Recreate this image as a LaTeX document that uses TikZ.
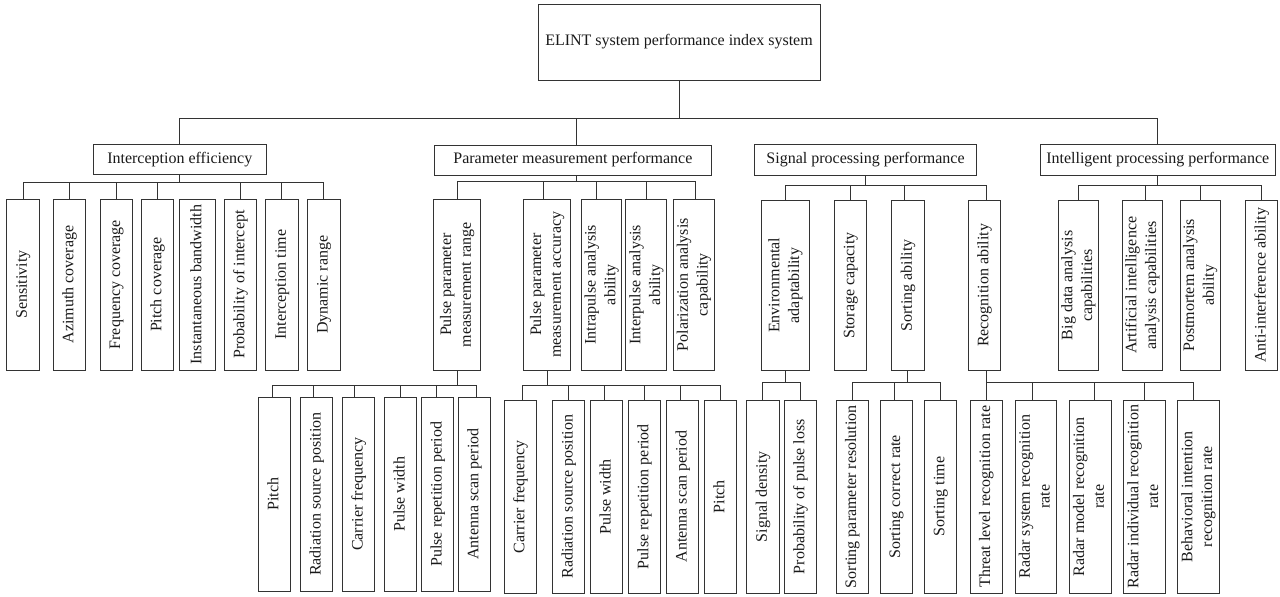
\documentclass[tikz,border=0pt]{standalone}
\usepackage{fontspec}
\usepackage{graphicx}
\setmainfont{Liberation Serif}
\newcommand\rtx[1]{\rotatebox{90}{\begin{tabular}{@{}c@{}}#1\end{tabular}}}
\newcommand\mkbox[6]{\node[box, minimum width={(#4-#2)*1pt}, minimum height={(#5-#3)*1pt}] (#1) at ({(#2+#4)/2},{(#3+#5)/2}) {#6};}
\tikzset{
  box/.style={draw=black!80, line width=0.95pt, rectangle, inner sep=0pt, outer sep=0pt,
    text=black!90, font=\fontsize{16}{19.8}\selectfont, align=center},
  ln/.style={line width=0.95pt, draw=black!80}
}
\begin{document}
\begin{tikzpicture}[x=1pt,y=-1pt]
\useasboundingbox (0,0) rectangle (1280,597);
% root
\mkbox{root}{538}{4}{820}{80}{ELINT system performance index system}
% level 1
\mkbox{ie}{93.5}{144}{266}{174.5}{Interception efficiency}
\mkbox{pm}{434.3}{145}{711.4}{175}{Parameter measurement performance}
\mkbox{sp}{754.3}{144.5}{976.7}{175}{Signal processing performance}
\mkbox{ip}{1040}{144.5}{1275.5}{175}{Intelligent processing performance}
% level 2: interception
\mkbox{i1}{6.7}{199.3}{39.3}{370}{\rtx{Sensitivity}}
\mkbox{i2}{53.3}{199.3}{85.7}{370}{\rtx{Azimuth coverage}}
\mkbox{i3}{100}{199.3}{132.3}{370}{\rtx{Frequency coverage}}
\mkbox{i4}{141.3}{199.3}{173.7}{370}{\rtx{Pitch coverage}}
\mkbox{i5}{179.7}{199.3}{215}{370}{\rtx{Instantaneous bandwidth}}
\mkbox{i6}{224.3}{199.3}{256.7}{370}{\rtx{Probability of intercept}}
\mkbox{i7}{265.7}{199.3}{298}{370}{\rtx{Interception time}}
\mkbox{i8}{307.3}{199.3}{340}{370}{\rtx{Dynamic range}}
% level 2: parameter
\mkbox{p1}{433.3}{199.3}{480.7}{370}{\rtx{Pulse parameter\\measurement range}}
\mkbox{p2}{523.3}{199.3}{570.7}{370}{\rtx{Pulse parameter\\measurement accuracy}}
\mkbox{p3}{582.7}{199.3}{620.3}{370}{\rtx{Intrapulse analysis\\ability}}
\mkbox{p4}{625.7}{199.3}{666.7}{370}{\rtx{Interpulse analysis\\ability}}
\mkbox{p5}{673.3}{199.3}{714.3}{370}{\rtx{Polarization analysis\\capability}}
% level 2: signal
\mkbox{s1}{761.7}{200.7}{809}{370}{\rtx{Environmental\\adaptability}}
\mkbox{s2}{834.3}{200.7}{866.7}{370}{\rtx{Storage capacity}}
\mkbox{s3}{891.7}{200.7}{924}{370}{\rtx{Sorting ability}}
\mkbox{s4}{968.3}{200.7}{1000.7}{370}{\rtx{Recognition ability}}
% level 2: intelligent
\mkbox{t1}{1058.3}{200.7}{1098.3}{370}{\rtx{Big data analysis\\capabilities}}
\mkbox{t2}{1122.3}{200.7}{1162.3}{370}{\rtx{Artificial intelligence\\analysis capabilities}}
\mkbox{t3}{1180}{200.7}{1220}{370}{\rtx{Postmortem analysis\\ability}}
\mkbox{t4}{1245.7}{200.7}{1277.7}{370}{\rtx{Anti-interference ability}}
% level 3: range
\mkbox{r1}{258.3}{397.3}{290.7}{591}{\rtx{Pitch}}
\mkbox{r2}{300.7}{397.3}{332.7}{591}{\rtx{Radiation source position}}
\mkbox{r3}{342.7}{397.3}{374.7}{591}{\rtx{Carrier frequency}}
\mkbox{r4}{384.7}{397.3}{416.7}{591}{\rtx{Pulse width}}
\mkbox{r5}{421.7}{397.3}{453.7}{591}{\rtx{Pulse repetition period}}
\mkbox{r6}{458.3}{397.3}{490.7}{591}{\rtx{Antenna scan period}}
% level 3: accuracy
\mkbox{a1}{504.3}{400}{536.3}{593.3}{\rtx{Carrier frequency}}
\mkbox{a2}{552.7}{400}{584.7}{593.3}{\rtx{Radiation source position}}
\mkbox{a3}{590.7}{400}{622.7}{593.3}{\rtx{Pulse width}}
\mkbox{a4}{628.3}{400}{660.3}{593.3}{\rtx{Pulse repetition period}}
\mkbox{a5}{666.7}{400}{698.7}{593.3}{\rtx{Antenna scan period}}
\mkbox{a6}{704.3}{400}{736.3}{593.3}{\rtx{Pitch}}
% level 3: environmental
\mkbox{e1}{746.7}{400}{779}{593.3}{\rtx{Signal density}}
\mkbox{e2}{784.3}{400}{816.7}{593.3}{\rtx{Probability of pulse loss}}
% level 3: sorting
\mkbox{o1}{836}{400}{868.3}{593.3}{\rtx{Sorting parameter resolution}}
\mkbox{o2}{880}{400}{912.3}{593.3}{\rtx{Sorting correct rate}}
\mkbox{o3}{924.3}{400}{956.7}{593.3}{\rtx{Sorting time}}
% level 3: recognition
\mkbox{g1}{970}{400}{1002.3}{593.3}{\rtx{Threat level recognition rate}}
\mkbox{g2}{1015}{400}{1056.7}{593.3}{\rtx{Radar system recognition\\rate}}
\mkbox{g3}{1069}{400}{1111}{593.3}{\rtx{Radar model recognition\\rate}}
\mkbox{g4}{1123.3}{400}{1165.3}{593.3}{\rtx{Radar individual recognition\\rate}}
\mkbox{g5}{1177.3}{400}{1219.3}{593.3}{\rtx{Behavioral intention\\recognition rate}}
% connectors: root
\draw[ln] (root.south) -- ++(0,38) coordinate (b0) -| (ie.north);
\draw[ln] (b0) -| ([xshift=4pt]pm.north);
\draw[ln] (b0) -| (ip.north);
% interception
\draw[ln] (ie.south) -- ++(0,8.2) coordinate (bi);
\foreach \c in {i1,i2,i3,i4,i6,i7,i8} \draw[ln] (bi) -| (\c.north);
% parameter
\draw[ln] ([xshift=4pt]pm.south) -- ++(0,6) coordinate (bp);
\draw[ln] (bp) -| (p1.north);
\draw[ln] (bp) -| ([xshift=-3.7pt]p2.north);
\draw[ln] (bp) -| ([xshift=-4.8pt]p3.north);
\draw[ln] (bp) -| (p4.north);
\draw[ln] (bp) -| ([xshift=2pt]p5.north);
% signal
\draw[ln] (sp.south) -- ++(0,10) coordinate (bs);
\draw[ln] (bs) -| (s1.north);
\draw[ln] (bs) -| (s2.north);
\draw[ln] (bs) -| ([xshift=-3pt]s3.north);
\draw[ln] (bs) -| ([xshift=2.2pt]s4.north);
% intelligent
\draw[ln] (ip.south) -- ++(0,10) coordinate (bt);
\draw[ln] (bt) -| (t1.north);
\draw[ln] (bt) -| ([xshift=2.7pt]t2.north);
\draw[ln] (bt) -| (t3.north);
\draw[ln] (bt) -| (t4.north);
% range
\draw[ln] (p1.south) -- ++(0,15) coordinate (br);
\draw[ln] (br) -| ([xshift=-1.8pt]r1.north);
\draw[ln] (br) -| ([xshift=-3.4pt]r2.north);
\draw[ln] (br) -| ([xshift=-4.4pt]r3.north);
\draw[ln] (br) -| (r4.north);
\draw[ln] (br) -| ([xshift=-1.7pt]r5.north);
\draw[ln] (br) -| ([xshift=2.2pt]r6.north);
% accuracy
\draw[ln] (p2.south) -- ++(0,15) coordinate (ba);
\draw[ln] (ba) -| ([xshift=2.4pt]a1.north);
\draw[ln] (ba) -| (a2.north);
\draw[ln] (ba) -| ([xshift=-2.4pt]a3.north);
\draw[ln] (ba) -| (a4.north);
\draw[ln] (ba) -| ([xshift=-2pt]a5.north);
\draw[ln] (ba) -| (a6.north);
% environmental
\draw[ln] (s1.south) -- ++(0,12.7) coordinate (be);
\draw[ln] (be) -| (e1.north);
\draw[ln] (be) -| (e2.north);
% sorting
\draw[ln] (s3.south) -- ++(0,12.7) coordinate (bo);
\draw[ln] (bo) -| (o1.north);
\draw[ln] (bo) -| ([xshift=-1.5pt]o2.north);
\draw[ln] (bo) -| (o3.north);
% recognition
\draw[ln] ([xshift=2.2pt]s4.south) -- ++(0,12.7) coordinate (bg);
\draw[ln] (bg) -| (g1.north);
\draw[ln] (bg) -| ([xshift=-3pt]g2.north);
\draw[ln] (bg) -| ([xshift=4pt]g3.north);
\draw[ln] (bg) -| (g4.north);
\draw[ln] (bg) -| ([xshift=-5pt]g5.north);
\end{tikzpicture}
\end{document}
